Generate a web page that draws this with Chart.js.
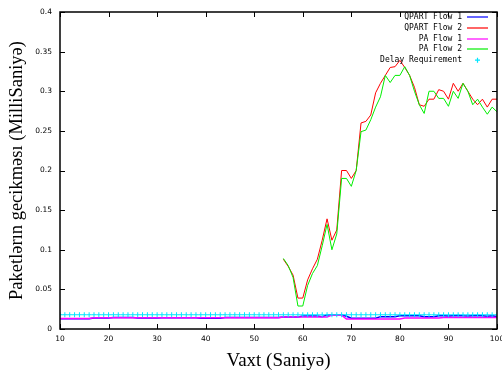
<!DOCTYPE html>
<html>
<head>
<meta charset="utf-8">
<script src="https://cdn.jsdelivr.net/npm/chart.js@4/dist/chart.umd.min.js"></script>
<style>
  html, body { margin: 0; padding: 0; background: #fff; }
  #wrap { width: 502px; height: 372px; position: relative; }
</style>
</head>
<body>
<div id="wrap"><canvas id="chart"></canvas></div>
<script>
/* =========================
   DATA
========================= */
const seriesNames = ["QPART Flow 1", "QPART Flow 2", "PA Flow 1", "PA Flow 2", "Delay Requirement"];
const seriesColors = ["#0000ff", "#ff0000", "#ff00ff", "#00ee00", "#00e5ff"];

const xTicks = [10, 20, 30, 40, 50, 60, 70, 80, 90, 100];
const yTicks = [0, 0.05, 0.1, 0.15, 0.2, 0.25, 0.3, 0.35, 0.4];

// seconds 10..100 (flow 1 and delay requirement)
const secs = [10, 11, 12, 13, 14, 15, 16, 17, 18, 19, 20, 21, 22, 23, 24, 25, 26, 27, 28, 29,
  30, 31, 32, 33, 34, 35, 36, 37, 38, 39, 40, 41, 42, 43, 44, 45, 46, 47, 48, 49,
  50, 51, 52, 53, 54, 55, 56, 57, 58, 59, 60, 61, 62, 63, 64, 65, 66, 67, 68, 69,
  70, 71, 72, 73, 74, 75, 76, 77, 78, 79, 80, 81, 82, 83, 84, 85, 86, 87, 88, 89,
  90, 91, 92, 93, 94, 95, 96, 97, 98, 99, 100];

// seconds 56..100 (flow 2)
const secs2 = [56, 57, 58, 59, 60, 61, 62, 63, 64, 65, 66, 67, 68, 69, 70, 71, 72, 73, 74, 75,
  76, 77, 78, 79, 80, 81, 82, 83, 84, 85, 86, 87, 88, 89, 90, 91, 92, 93, 94, 95,
  96, 97, 98, 99, 100];

const qpartFlow1 = [
  0.0128, 0.0128, 0.0128, 0.0128, 0.0128, 0.0128, 0.0128,
  0.0140, 0.0140, 0.0140, 0.0140,
  0.0146, 0.0146, 0.0146, 0.0146, 0.0146,
  0.0140, 0.0140, 0.0140, 0.0140, 0.0140,
  0.0142, 0.0142, 0.0142, 0.0142, 0.0142, 0.0142, 0.0142, 0.0142,
  0.0136, 0.0136, 0.0136, 0.0136, 0.0136,
  0.0145, 0.0145, 0.0145, 0.0145, 0.0145, 0.0145, 0.0145, 0.0145, 0.0145, 0.0145, 0.0145, 0.0145,
  0.0152, 0.0152, 0.0152, 0.0152,
  0.0165, 0.0165, 0.0165, 0.0165,
  0.0156,
  0.0178, 0.0178, 0.0178, 0.0178,
  0.0160,
  0.0136, 0.0136, 0.0136, 0.0136, 0.0136, 0.0136,
  0.0156, 0.0156, 0.0156, 0.0156,
  0.0166, 0.0166, 0.0166, 0.0166, 0.0166,
  0.0156, 0.0156, 0.0156,
  0.0166, 0.0168, 0.0163, 0.0167, 0.0170, 0.0166, 0.0164, 0.0168, 0.0170, 0.0166, 0.0162, 0.0168, 0.0158
];

const paFlow1 = [
  0.0134, 0.0134, 0.0134, 0.0134, 0.0134, 0.0134, 0.0134,
  0.0143, 0.0143, 0.0143, 0.0143, 0.0143, 0.0143, 0.0143, 0.0143, 0.0143, 0.0143,
  0.0143, 0.0143, 0.0143, 0.0143, 0.0143, 0.0143, 0.0143, 0.0143, 0.0143, 0.0143,
  0.0143, 0.0143, 0.0143, 0.0143, 0.0143, 0.0143, 0.0143, 0.0143, 0.0143, 0.0143,
  0.0143, 0.0143, 0.0143, 0.0143, 0.0143, 0.0143, 0.0143, 0.0143, 0.0143,
  0.0152, 0.0152, 0.0152, 0.0152, 0.0152, 0.0152, 0.0152, 0.0152, 0.0152, 0.0152,
  0.0175, 0.0175, 0.0175,
  0.0126, 0.0126, 0.0126, 0.0126, 0.0126, 0.0126, 0.0126, 0.0126, 0.0126, 0.0126, 0.0126, 0.0126,
  0.0138, 0.0138, 0.0138, 0.0138, 0.0138, 0.0138, 0.0138, 0.0138,
  0.0146, 0.0146, 0.0146, 0.0146, 0.0146, 0.0146, 0.0146, 0.0146, 0.0146, 0.0146, 0.0146, 0.0146
];

const qpartFlow2 = [
  0.088, 0.079, 0.068, 0.039, 0.039, 0.062, 0.076, 0.088, 0.112, 0.139,
  0.112, 0.125, 0.200, 0.200, 0.190, 0.200, 0.260, 0.262, 0.270, 0.298,
  0.310, 0.320, 0.330, 0.331, 0.339, 0.330, 0.320, 0.305, 0.283, 0.281,
  0.290, 0.290, 0.302, 0.300, 0.290, 0.310, 0.300, 0.310, 0.300, 0.290,
  0.283, 0.290, 0.280, 0.290, 0.290
];

const paFlow2 = [
  0.089, 0.080, 0.065, 0.029, 0.029, 0.055, 0.070, 0.080, 0.105, 0.132,
  0.100, 0.120, 0.190, 0.190, 0.180, 0.200, 0.249, 0.251, 0.264, 0.280,
  0.293, 0.320, 0.311, 0.320, 0.320, 0.331, 0.320, 0.300, 0.283, 0.272,
  0.300, 0.300, 0.291, 0.291, 0.281, 0.300, 0.291, 0.310, 0.300, 0.283,
  0.290, 0.280, 0.271, 0.280, 0.274
];

const delayRequirement = new Array(secs.length).fill(0.018);

/* =========================
   HELPERS
========================= */
function toPoints(xs, ys) {
  return xs.map((x, i) => ({ x: x, y: ys[i] }));
}

function lineSet(idx, xs, ys, width, order) {
  return {
    label: seriesNames[idx],
    data: toPoints(xs, ys),
    borderColor: seriesColors[idx],
    backgroundColor: seriesColors[idx],
    borderWidth: width,
    pointRadius: 0,
    tension: 0,
    order: order,
  };
}

/* =========================
   FRAME + LEGEND (gnuplot look)
========================= */
const framePlugin = {
  id: "frame",
  afterDatasetsDraw(chart) {
    const ctx = chart.ctx;
    const a = chart.chartArea;
    const xs = chart.scales.x;
    const ys = chart.scales.y;
    const tl = 5;

    ctx.save();
    ctx.strokeStyle = "#000";
    ctx.lineWidth = 1;

    // inward ticks on all four sides
    ctx.beginPath();
    xTicks.forEach((v) => {
      const px = Math.round(xs.getPixelForValue(v)) + 0.5;
      ctx.moveTo(px, a.bottom);
      ctx.lineTo(px, a.bottom - tl);
      ctx.moveTo(px, a.top);
      ctx.lineTo(px, a.top + tl);
    });
    yTicks.forEach((v) => {
      const py = Math.round(ys.getPixelForValue(v)) + 0.5;
      ctx.moveTo(a.left, py);
      ctx.lineTo(a.left + tl, py);
      ctx.moveTo(a.right, py);
      ctx.lineTo(a.right - tl, py);
    });
    ctx.stroke();

    // border
    ctx.lineWidth = 1.5;
    ctx.strokeRect(a.left, a.top, a.right - a.left, a.bottom - a.top);

    // legend, top right inside the plot
    ctx.font = "8px 'DejaVu Sans Mono'";
    ctx.textAlign = "right";
    ctx.textBaseline = "middle";
    const textRight = 462;
    const lineL = 467;
    const lineR = 488;
    seriesNames.forEach((name, i) => {
      const y = 17 + i * 10.8;
      ctx.fillStyle = "#000";
      ctx.fillText(name, textRight, y);
      ctx.strokeStyle = seriesColors[i];
      ctx.lineWidth = 1.2;
      ctx.beginPath();
      if (i < 4) {
        ctx.moveTo(lineL, Math.round(y));
        ctx.lineTo(lineR, Math.round(y));
      } else {
        const cx = 477.5;
        ctx.moveTo(cx - 2.5, y);
        ctx.lineTo(cx + 2.5, y);
        ctx.moveTo(cx, y - 2.5);
        ctx.lineTo(cx, y + 2.5);
      }
      ctx.stroke();
    });

    ctx.restore();
  },
};

/* =========================
   CHART
========================= */
const ctx = document.getElementById("chart").getContext("2d");

new Chart(ctx, {
  type: "line",
  data: {
    datasets: [
      lineSet(0, secs, qpartFlow1, 1.5, 5),
      lineSet(1, secs2, qpartFlow2, 1, 4),
      lineSet(2, secs, paFlow1, 1.5, 3),
      lineSet(3, secs2, paFlow2, 1, 2),
      {
        label: seriesNames[4],
        data: toPoints(secs, delayRequirement),
        showLine: false,
        borderColor: seriesColors[4],
        backgroundColor: seriesColors[4],
        pointStyle: "cross",
        pointRadius: 2.5,
        pointBorderWidth: 1,
        order: 1,
      },
    ],
  },
  options: {
    responsive: true,
    maintainAspectRatio: false,
    animation: false,
    layout: { padding: { top: 12, right: 5, left: 0, bottom: 0 } },
    plugins: {
      legend: { display: false },
      tooltip: { enabled: false },
    },
    scales: {
      x: {
        type: "linear",
        min: 10,
        max: 100,
        afterBuildTicks: (s) => { s.ticks = xTicks.map((v) => ({ value: v })); },
        afterFit: (s) => { s.height = 43; s.paddingLeft = 0; s.paddingRight = 0; },
        grid: { display: false, drawTicks: false },
        border: { display: false },
        ticks: {
          padding: 6,
          maxRotation: 0,
          color: "#000",
          font: { family: "DejaVu Sans", size: 7.5 },
        },
        title: {
          display: true,
          text: "Vaxt (Saniyə)",
          color: "#000",
          padding: { top: 1, bottom: 0 },
          font: { family: "Liberation Serif", size: 19 },
        },
      },
      y: {
        min: 0,
        max: 0.4,
        afterBuildTicks: (s) => { s.ticks = yTicks.map((v) => ({ value: v })); },
        afterFit: (s) => { s.width = 60; s.paddingTop = 0; s.paddingBottom = 0; },
        grid: { display: false, drawTicks: false },
        border: { display: false },
        ticks: {
          padding: 8,
          color: "#000",
          font: { family: "DejaVu Sans", size: 7.5 },
          callback: (v) => String(+Number(v).toFixed(2)),
        },
        title: {
          display: true,
          text: "Paketlərın gecikməsı (MilliSaniyə)",
          color: "#000",
          padding: { top: 6, bottom: 4 },
          font: { family: "Liberation Serif", size: 18.5 },
        },
      },
    },
  },
  plugins: [framePlugin],
});
</script>
</body>
</html>
